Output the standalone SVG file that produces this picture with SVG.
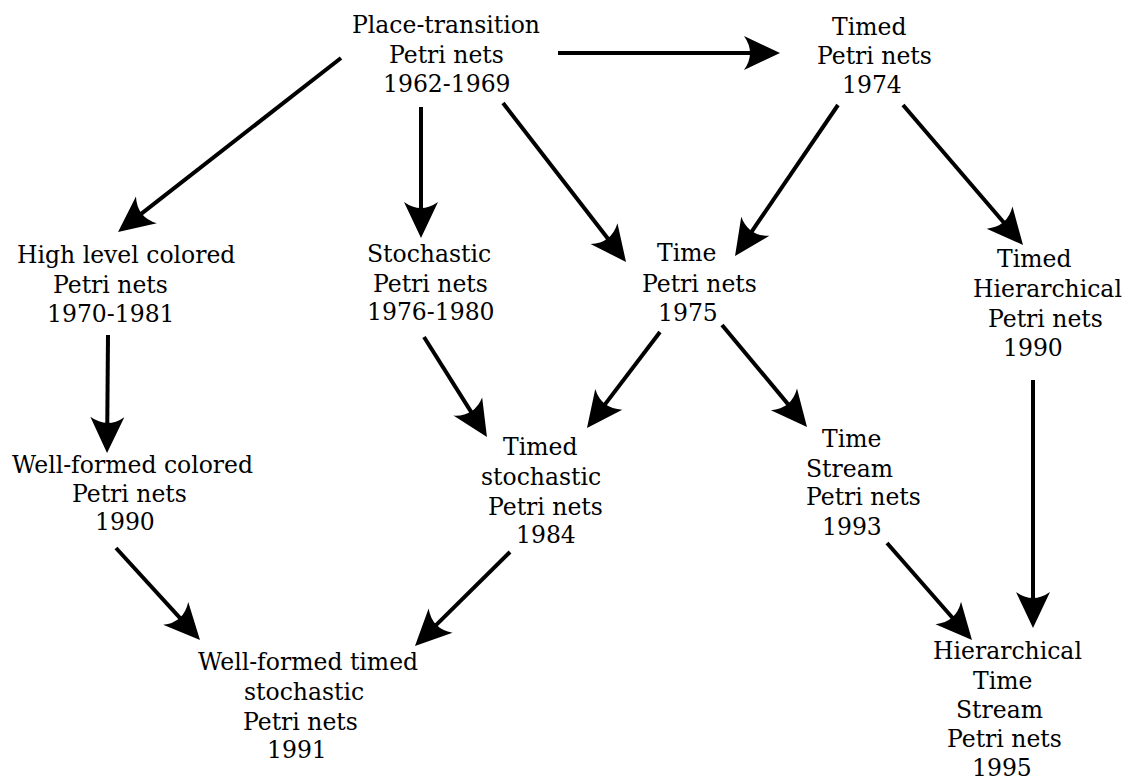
<svg xmlns="http://www.w3.org/2000/svg" width="1130" height="781" viewBox="0 0 1130 781">
<style>
text{font-family:"DejaVu Serif","Liberation Serif",serif;font-size:23.5px;fill:#000}
.c{stroke:#000;stroke-width:4;fill:none;marker-end:url(#ah)}
</style>
<defs>
<marker id="ah" markerUnits="userSpaceOnUse" orient="auto" markerWidth="40" markerHeight="40" viewBox="-20 -20 40 40" refX="0" refY="0" overflow="visible">
<path d="M20,0 L-16,-17 Q-4,0 -16,17 Z" fill="#000"/>
</marker>
</defs>
<rect width="1130" height="781" fill="#fff"/>
<g id="connectors">
<line class="c" x1="558" y1="53" x2="760" y2="53"/>
<line class="c" x1="341" y1="58" x2="133.8" y2="219.7"/>
<line class="c" x1="421" y1="107" x2="421" y2="218"/>
<line class="c" x1="503" y1="103" x2="613.8" y2="246.2"/>
<line class="c" x1="838" y1="105" x2="746.3" y2="239.5"/>
<line class="c" x1="903" y1="105" x2="1010" y2="229.8"/>
<line class="c" x1="108" y1="335" x2="107.2" y2="433"/>
<line class="c" x1="424" y1="337" x2="476.3" y2="420.1"/>
<line class="c" x1="660" y1="332" x2="599.1" y2="412.1"/>
<line class="c" x1="722" y1="325" x2="794.2" y2="411.6"/>
<line class="c" x1="116" y1="548" x2="186.5" y2="625.2"/>
<line class="c" x1="510" y1="552" x2="429.2" y2="631.9"/>
<line class="c" x1="887" y1="543" x2="958.8" y2="625"/>
<line class="c" x1="1033" y1="380" x2="1033" y2="608"/>
</g>
<g id="n-pt">
<text x="352" y="33">Place-transition</text>
<text x="389" y="63">Petri nets</text>
<text x="383" y="92">1962-1969</text>
</g>
<g id="n-timed">
<text x="832" y="35">Timed</text>
<text x="817" y="64">Petri nets</text>
<text x="842" y="93">1974</text>
</g>
<g id="n-hlc">
<text x="17" y="263">High level colored</text>
<text x="53" y="293">Petri nets</text>
<text x="47" y="322">1970-1981</text>
</g>
<g id="n-stoch">
<text x="367" y="262">Stochastic</text>
<text x="373" y="292">Petri nets</text>
<text x="367" y="320">1976-1980</text>
</g>
<g id="n-time">
<text x="657" y="261">Time</text>
<text x="642" y="292">Petri nets</text>
<text x="658" y="321">1975</text>
</g>
<g id="n-thier">
<text x="997" y="267">Timed</text>
<text x="973" y="297">Hierarchical</text>
<text x="988" y="327">Petri nets</text>
<text x="1003" y="356">1990</text>
</g>
<g id="n-wfc">
<text x="12" y="473">Well-formed colored</text>
<text x="72" y="502">Petri nets</text>
<text x="95" y="530">1990</text>
</g>
<g id="n-tstoch">
<text x="503" y="455">Timed</text>
<text x="481" y="485">stochastic</text>
<text x="488" y="515">Petri nets</text>
<text x="516" y="543">1984</text>
</g>
<g id="n-tstream">
<text x="822" y="447">Time</text>
<text x="806" y="477">Stream</text>
<text x="806" y="505">Petri nets</text>
<text x="822" y="535">1993</text>
</g>
<g id="n-wfts">
<text x="198" y="670">Well-formed timed</text>
<text x="244" y="700">stochastic</text>
<text x="243" y="730">Petri nets</text>
<text x="267" y="758">1991</text>
</g>
<g id="n-hts">
<text x="933" y="659">Hierarchical</text>
<text x="973" y="689">Time</text>
<text x="956" y="718">Stream</text>
<text x="947" y="747">Petri nets</text>
<text x="972" y="776">1995</text>
</g>
</svg>
